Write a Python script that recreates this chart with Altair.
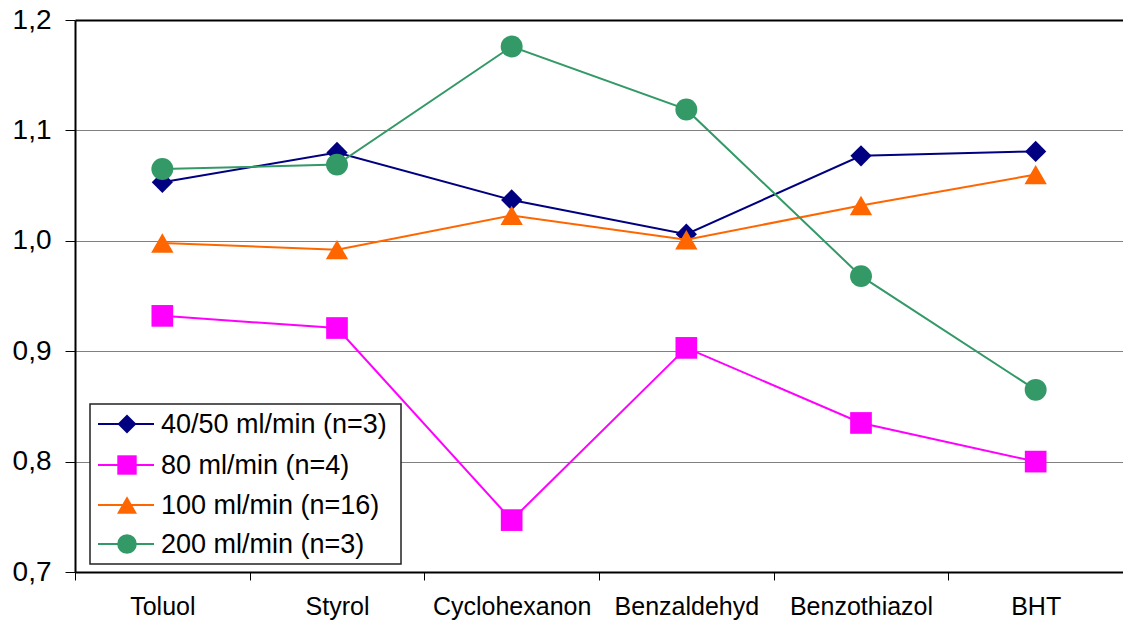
import altair as alt
import pandas as pd

# Compounds on the x axis
compounds = ["Toluol", "Styrol", "Cyclohexanon", "Benzaldehyd", "Benzothiazol", "BHT"]

# Series names, colours and marker shapes
series_names = ["40/50 ml/min (n=3)", "80 ml/min (n=4)", "100 ml/min (n=16)", "200 ml/min (n=3)"]
series_colors = ["#000080", "#FF00FF", "#FF6600", "#339966"]
series_shapes = ["diamond", "square", "triangle-up", "circle"]
series_sizes = [450, 470, 500, 480]

# Values per series, one per compound
flow_40_50 = [1.053, 1.080, 1.037, 1.006, 1.077, 1.081]
flow_80 = [0.932, 0.921, 0.747, 0.903, 0.835, 0.800]
flow_100 = [0.998, 0.992, 1.023, 1.001, 1.032, 1.060]
flow_200 = [1.065, 1.069, 1.176, 1.119, 0.968, 0.865]
y_ticks = [0.7, 0.8, 0.9, 1.0, 1.1, 1.2]

series_values = [flow_40_50, flow_80, flow_100, flow_200]
rows = []
for name, vals in zip(series_names, series_values):
    for c, v in zip(compounds, vals):
        rows.append({"compound": c, "series": name, "value": v})
df = pd.DataFrame(rows)

FONT = "Liberation Sans"

x_enc = alt.X(
    "compound:N",
    sort=compounds,
    title=None,
    scale=alt.Scale(paddingInner=0, paddingOuter=0),
    axis=alt.Axis(
        labelAngle=0,
        labelFontSize=25,
        labelFont=FONT,
        labelColor="black",
        labelPadding=14,
        tickBand="extent",
        tickSize=8,
        tickColor="black",
        tickWidth=1,
        domainColor="black",
        domainWidth=2,
        grid=False,
    ),
)
y_enc = alt.Y(
    "value:Q",
    title=None,
    scale=alt.Scale(domain=[0.7, 1.2], nice=False, zero=False),
    axis=alt.Axis(
        values=y_ticks,
        labelExpr="replace(format(datum.value, '.1f'), '.', ',')",
        labelFontSize=28,
        labelFont=FONT,
        labelColor="black",
        labelPadding=14,
        tickSize=10,
        tickColor="black",
        tickWidth=1,
        domainColor="black",
        domainWidth=2,
        grid=True,
        gridColor={"condition": {"test": "datum.value >= 1.2", "value": "black"}, "value": "#808080"},
        gridWidth={"condition": {"test": "datum.value >= 1.2", "value": 2}, "value": 1},
    ),
)

layers = []
for i, name in enumerate(series_names):
    sub = df[df["series"] == name]
    base = alt.Chart(sub)
    line = base.mark_line(strokeWidth=2, color=series_colors[i]).encode(x=x_enc, y=y_enc)
    pts = base.mark_point(
        shape=series_shapes[i], filled=True, opacity=1,
        size=series_sizes[i], color=series_colors[i],
    ).encode(x=x_enc, y=y_enc)
    layers += [line, pts]

# Legend box drawn inside the plot area
legend_df = pd.DataFrame({"label": series_names})
box = alt.Chart(legend_df.head(1)).mark_rect(
    fill="white", stroke="#222222", strokeWidth=1.5
).encode(x=alt.value(15), x2=alt.value(326), y=alt.value(384), y2=alt.value(544))
layers.append(box)

row_y = [404, 445, 485, 524]
for i, name in enumerate(series_names):
    one = alt.Chart(legend_df.iloc[[i]])
    layers.append(
        one.mark_rule(color=series_colors[i], strokeWidth=2).encode(
            x=alt.value(23), x2=alt.value(79), y=alt.value(row_y[i])
        )
    )
    layers.append(
        one.mark_point(
            shape=series_shapes[i], filled=True, opacity=1,
            size=series_sizes[i] * 0.8, color=series_colors[i],
        ).encode(x=alt.value(52), y=alt.value(row_y[i]))
    )
    layers.append(
        one.mark_text(
            align="left", baseline="middle", font=FONT, fontSize=27, color="black"
        ).encode(x=alt.value(86), y=alt.value(row_y[i] + 1), text="label:N")
    )

chart = alt.layer(*layers).properties(
    width=1048,
    height=552,
    autosize=alt.AutoSizeParams(type="none"),
    padding={"left": 75, "top": 20, "right": 0, "bottom": 52},
).configure_view(stroke=None).configure(background="white")

chart.save("out.html", embed_options={"renderer": "svg", "actions": False})
